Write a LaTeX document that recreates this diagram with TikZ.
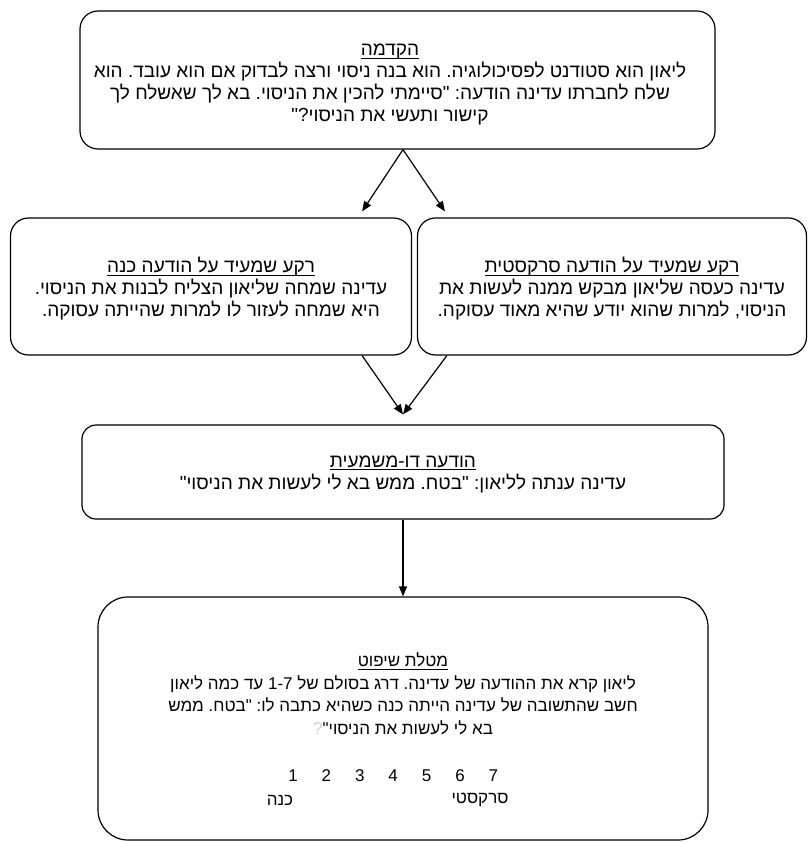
\documentclass[tikz,border=0pt]{standalone}
\usepackage{fontspec}
\setmainfont{Liberation Sans}
\newfontfamily\hebfont[Script=Hebrew]{Liberation Sans}
\usetikzlibrary{arrows.meta}
\TeXXeTstate=1
\frenchspacing
\newcommand{\heb}[1]{\beginR #1\endR}
\newcommand{\ttl}[1]{\setbox0\hbox{\beginR #1\endR}\rlap{\copy0}\rule[-2.5pt]{\wd0}{0.8pt}}

\begin{document}
\begin{tikzpicture}[x=1pt, y=-1pt,
  box/.style={draw, line width=1.2pt, rounded corners=18pt, inner sep=0pt},
  txt/.style={align=center, font=\hebfont\fontsize{19}{22}\selectfont, inner sep=0pt},
  small/.style={txt, font=\hebfont\fontsize{17}{22.5}\selectfont},
  arr/.style={-{Triangle[length=10pt,width=8pt]}, line width=1.2pt}]
\useasboundingbox (0,0) rectangle (808,842);
\node[box, minimum width=635pt, minimum height=138pt] (intro) at (397.5,80) {};
\node[box, minimum width=401pt, minimum height=137pt] (good) at (211,286.5) {};
\node[box, minimum width=389pt, minimum height=137pt] (sarc) at (612,286.5) {};
\node[box, rounded corners=14pt, minimum width=642pt, minimum height=94pt] (msg) at (403,472) {};
\node[box, rounded corners=30pt, minimum width=610pt, minimum height=243pt] (judge) at (403,718.5) {};

\node[txt] (introtxt) at (390,85) {\ttl{הקדמה}\\
  \heb{ליאון הוא סטודנט לפסיכולוגיה. הוא בנה ניסוי ורצה לבדוק אם הוא עובד. הוא}\\
  \heb{שלח לחברתו עדינה הודעה: "סיימתי להכין את הניסוי. בא לך שאשלח לך}\\
  \heb{קישור ותעשי את הניסוי?"}};
\node[txt] (goodtxt) at (211,289) {\ttl{רקע שמעיד על הודעה כנה}\\
  \heb{עדינה שמחה שליאון הצליח לבנות את הניסוי.}\\
  \heb{היא שמחה לעזור לו למרות שהייתה עסוקה.}};
\node[txt] (sarctxt) at (612,289) {\ttl{רקע שמעיד על הודעה סרקסטית}\\
  \heb{עדינה כעסה שליאון מבקש ממנה לעשות את}\\
  \heb{הניסוי, למרות שהוא יודע שהיא מאוד עסוקה.}};
\node[txt] (msgtxt) at (403,474) {\ttl{הודעה דו-משמעית}\\
  \heb{עדינה ענתה לליאון: "בטח. ממש בא לי לעשות את הניסוי"}};
\node[small] (judgetxt) at (403,694) {\ttl{מטלת שיפוט}\\
  \heb{ליאון קרא את ההודעה של עדינה. דרג בסולם של \beginL1-7\endL{} עד כמה ליאון}\\
  \heb{חשב שהתשובה של עדינה הייתה כנה כשהיא כתבה לו: "בטח. ממש}\\
  \textcolor{gray!35}{?}\heb{בא לי לעשות את הניסוי"}};

\foreach \i in {1,...,7}
  \node[small] (n\i) at ({293+33.4*(\i-1)},776) {\i};
\node[small] (genuine) at (280,800) {\heb{כנה}};
\node[small] (sarcastic) at (480,800) {\heb{סרקסטי}};

\draw[arr] (intro.south -| msg.north) -- ([xshift=-50pt,yshift=6pt]good.north east);
\draw[arr] (intro.south -| msg.north) -- ([xshift=28pt,yshift=6pt]sarc.north west);
\draw[arr] ([xshift=-50pt]good.south east) -- ([yshift=10pt]msg.north);
\draw[arr] ([xshift=30pt]sarc.south west) -- ([yshift=10pt]msg.north);
\draw[arr] (msg.south) -- (judge.north);
\end{tikzpicture}
\end{document}
